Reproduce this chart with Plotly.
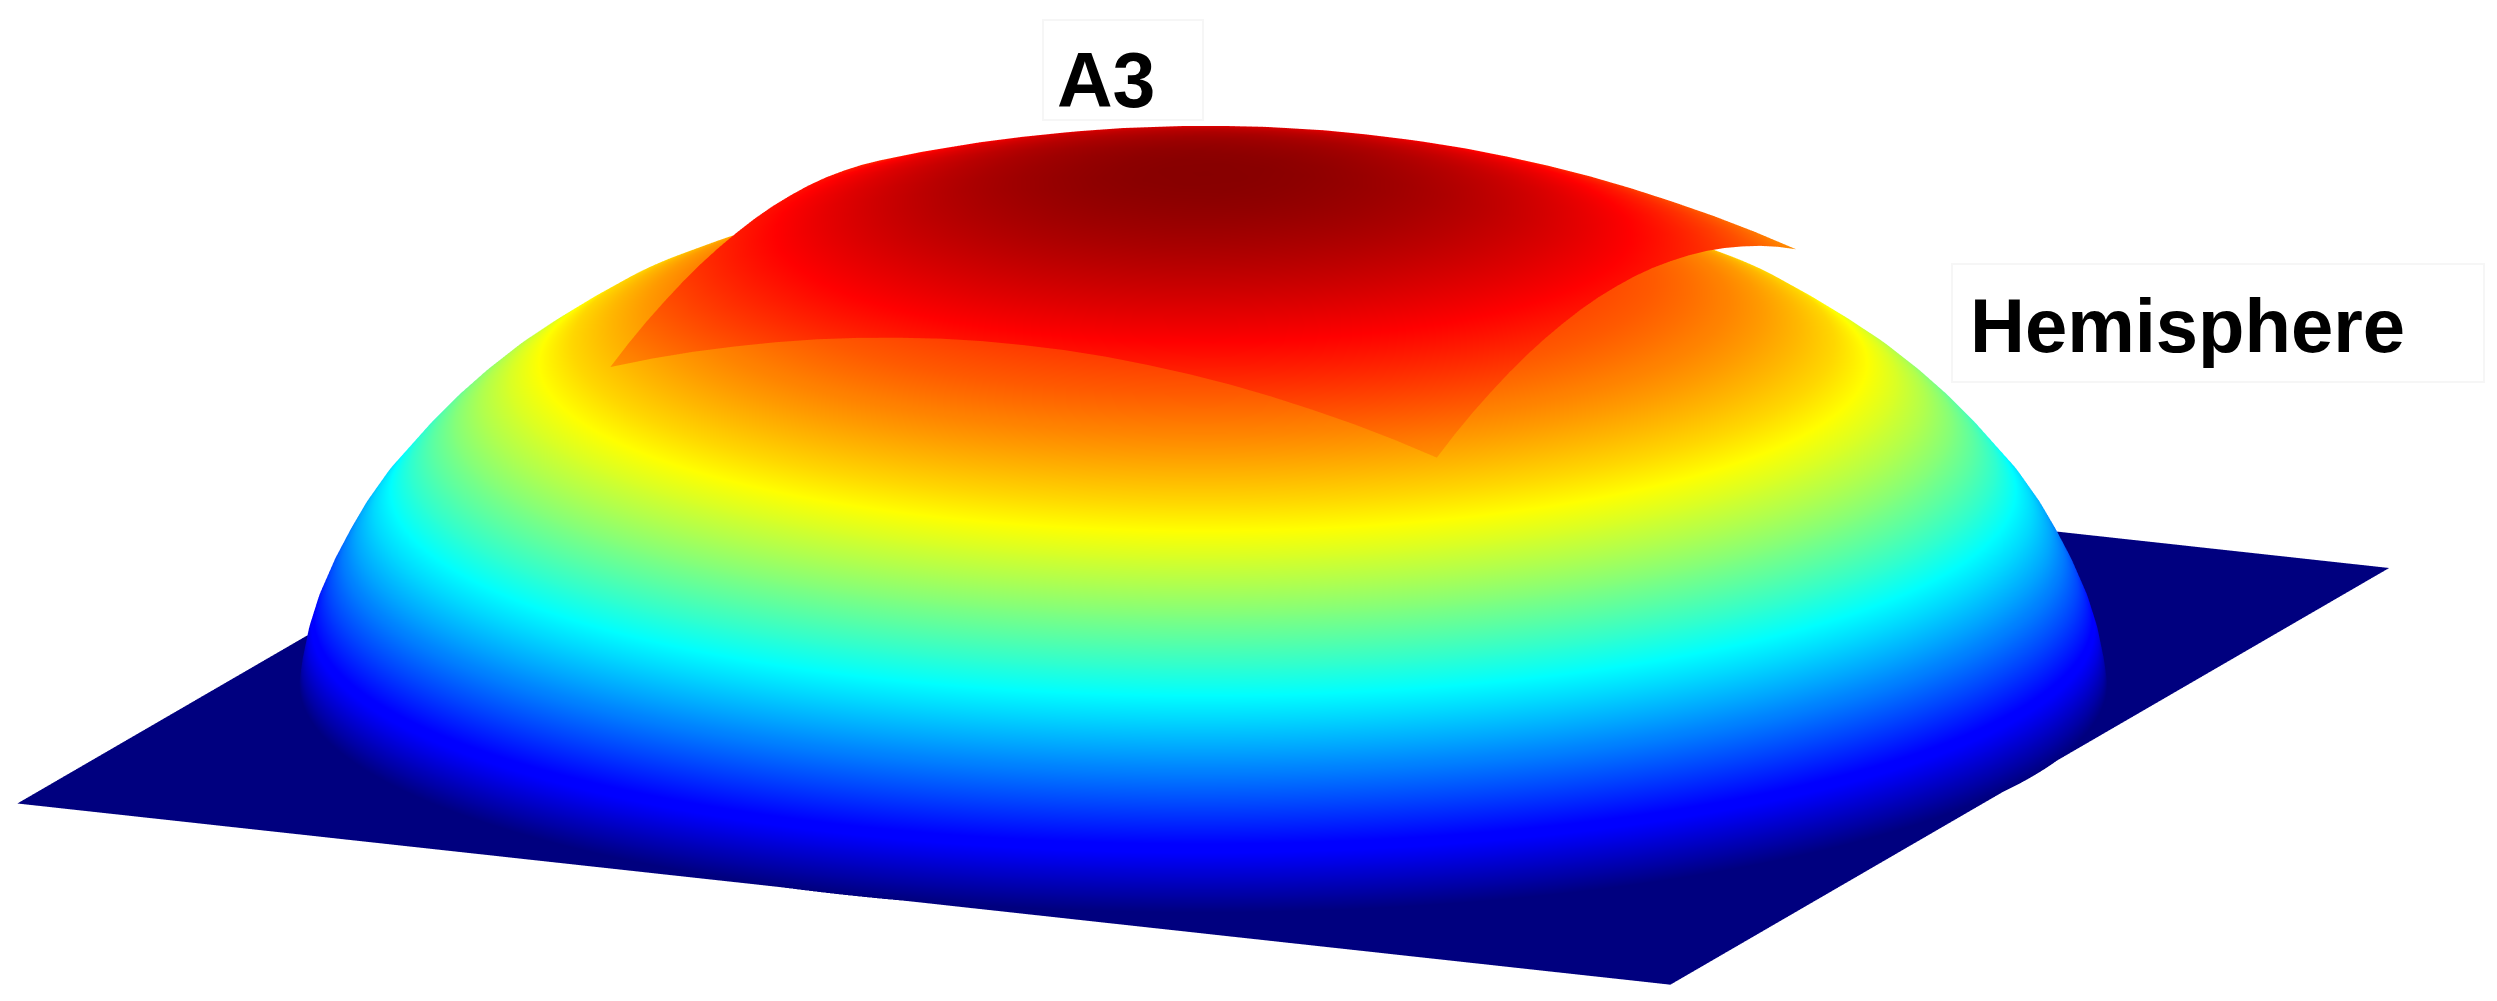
import numpy as np
import plotly.graph_objects as go

plane_x = [-1.0, 1.0]
plane_y = [-1.0, 1.0]
plane_z = [[0.0, 0.0], [0.0, 0.0]]

dome_r = [0, .05, .1, .15, .2, .25, .3, .35, .4, .45, .5, .54, .58, .62, .66, .7, .735, .77, .80, .83, .855, .88, .90, .92, .94, .955, .97, .985, .994, 1.0, 1.003]
dome_z = [.879, .878, .876, .872, .866, .858, .848, .835, .82, .802, .785, .766, .745, .721, .693, .662, .625, .585, .548, .505, .465, .42, .38, .34, .29, .245, .195, .135, .085, .035, 0]

patch_u = [-0.5, -0.45, -0.4, -0.35, -0.3, -0.25, -0.2, -0.15, -0.1, -0.05, 0.0, 0.05, 0.1, 0.15, 0.2, 0.25, 0.3, 0.35, 0.4, 0.45, 0.5]
patch_p = [0.365, 0.39, 0.412, 0.431, 0.448, 0.4625, 0.474, 0.483, 0.49, 0.494, 0.495, 0.494, 0.49, 0.483, 0.474, 0.4625, 0.448, 0.431, 0.412, 0.39, 0.365]

labels = ["<b>A3</b>", "<b>Hemisphere</b>"]

jet = [[0, "#00007f"], [0.11, "#0000ff"], [0.125, "#0000ff"], [0.375, "#00ffff"], [0.625, "#ffff00"], [0.875, "#ff0000"], [1, "#7f0000"]]
light = dict(ambient=1, diffuse=0, specular=0, roughness=1, fresnel=0)

angles = np.radians(np.arange(0, 361, 1))
R, A = np.meshgrid(dome_r, angles)
patch_z = np.add.outer(patch_p, patch_p)

common = dict(colorscale=jet, cmin=0, cmax=1, showscale=False, lighting=light, hoverinfo="skip")
fig = go.Figure()
fig.add_surface(x=plane_x, y=plane_y, z=plane_z, **common)
fig.add_surface(x=R * np.cos(A), y=R * np.sin(A), z=np.tile(dome_z, (len(angles), 1)), **common)
fig.add_surface(x=patch_u, y=patch_u, z=patch_z, **common)

theta, phi = np.radians(23.5), np.radians(14.6)
r = np.array([np.cos(theta), np.sin(theta), 0])
u = np.array([-np.sin(theta) * np.sin(phi), np.cos(theta) * np.sin(phi), np.cos(phi)])
e = np.cross(r, u)
S = 3.66
unit = 2.1 * 901 / S
center = (47.5 / unit) * r - (77 / unit) * u
D = 8.0
eye = center + D * e

W, H = 2481, 985
def px(x): return (x - 8) / W
def py(y): return 1 - (y - 8) / H

hidden = dict(visible=False, showgrid=False, zeroline=False, showticklabels=False, title="")
span = 1.1
fig.update_layout(
    width=W, height=H, margin=dict(l=0, r=0, t=0, b=0), paper_bgcolor="white", showlegend=False,
    scene=dict(
        domain=dict(x=[0, 1], y=[0, 1]),
        xaxis=dict(range=[-span, span], **hidden), yaxis=dict(range=[-span, span], **hidden), zaxis=dict(range=[0, 1], **hidden),
        aspectmode="manual", aspectratio=dict(x=S * span, y=S * span, z=0.2965 * S),
        camera=dict(projection=dict(type="orthographic"), up=dict(x=0, y=0, z=1),
                    center=dict(x=center[0], y=center[1], z=center[2]),
                    eye=dict(x=eye[0], y=eye[1], z=eye[2])),
    ),
    shapes=[
        dict(type="rect", xref="paper", yref="paper", x0=px(1043), x1=px(1203), y0=py(20), y1=py(120), line=dict(color="#f6f6f6", width=2)),
        dict(type="rect", xref="paper", yref="paper", x0=px(1952), x1=px(2484), y0=py(264), y1=py(382), line=dict(color="#f6f6f6", width=2)),
    ],
    annotations=[
        dict(text=labels[0], x=px(1106), y=py(80), xref="paper", yref="paper", xanchor="center", yanchor="middle", showarrow=False, font=dict(family="Liberation Sans", size=77, color="black")),
        dict(text=labels[1], x=px(2187), y=py(326), xref="paper", yref="paper", xanchor="center", yanchor="middle", showarrow=False, font=dict(family="Liberation Sans", size=76, color="black")),
    ],
)
fig.write_html("out.html")
